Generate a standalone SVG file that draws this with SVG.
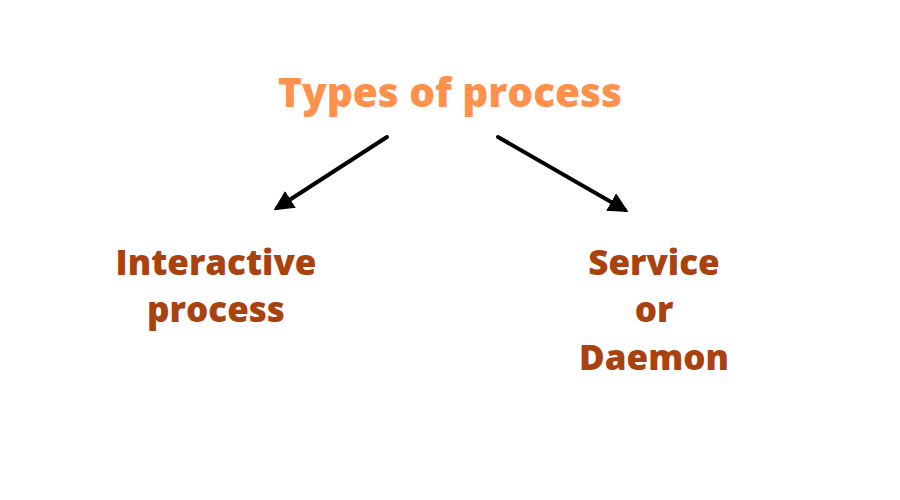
<svg xmlns="http://www.w3.org/2000/svg" width="900" height="500" viewBox="0 0 900 500">
<defs>
<style>
.t{font-family:"Open Sans","Liberation Sans",sans-serif;font-weight:800;text-anchor:middle}
.title{fill:#FF914D;font-size:40.5px}
.node{fill:#A9420F;font-size:35px}
.c{stroke:#000;stroke-width:4;stroke-linecap:round;fill:none}
</style>
<marker id="ah" viewBox="0 0 10 10" refX="8" refY="5" markerWidth="5" markerHeight="5" orient="auto" markerUnits="strokeWidth">
<path d="M0,0 L10,5 L0,10 z" fill="#000"/>
</marker>
</defs>
<rect width="900" height="500" fill="#fff"/>
<g id="title"><text class="t title" x="450" y="107">Types of process</text></g>
<g id="connectors">
<line class="c" x1="387" y1="137" x2="277" y2="208" marker-end="url(#ah)"/>
<line class="c" x1="498" y1="137" x2="625" y2="210" marker-end="url(#ah)"/>
</g>
<g id="interactive"><text class="t node" x="216" y="275">Interactive</text><text class="t node" x="216" y="322">process</text></g>
<g id="service"><text class="t node" x="654" y="275">Service</text><text class="t node" x="654" y="322">or</text><text class="t node" x="654" y="370">Daemon</text></g>
</svg>
